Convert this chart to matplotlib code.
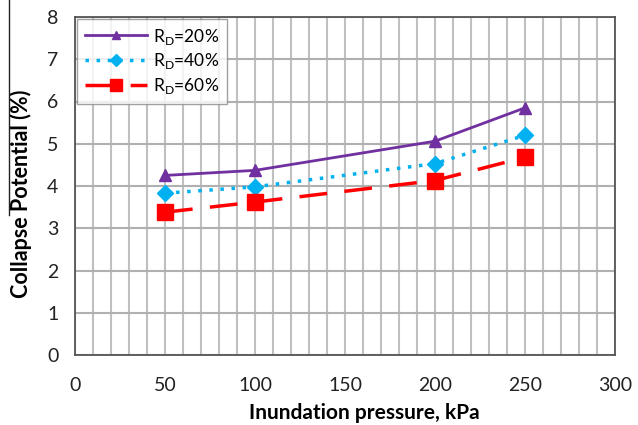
import matplotlib
matplotlib.use("Agg")
import matplotlib.pyplot as plt
from matplotlib.ticker import MultipleLocator
from matplotlib.lines import Line2D

plt.rcParams['font.family'] = ['Lato', 'DejaVu Sans']
plt.rcParams['mathtext.fontset'] = 'custom'
plt.rcParams['mathtext.rm'] = 'Lato'

pressure = [50, 100, 200, 250]
cp_rd20 = [4.25, 4.37, 5.06, 5.85]
cp_rd40 = [3.83, 3.98, 4.53, 5.20]
cp_rd60 = [3.38, 3.62, 4.13, 4.68]
labels = [r'R$_\mathregular{D}$=20%', r'R$_\mathregular{D}$=40%', r'R$_\mathregular{D}$=60%']

fig = plt.figure(figsize=(6.38, 4.25), dpi=100)
ax = fig.add_axes([75/638, 1-355/425, 540/638, 338/425])

ax.plot(pressure, cp_rd20, color='#7030A0', lw=2, marker='^', ms=8, label=labels[0])
ax.plot(pressure, cp_rd40, color='#00B0F0', lw=2.5, ls=(0, (1, 2.2)), marker='D', ms=8, label=labels[1])
ax.plot(pressure, cp_rd60, color='#FF0000', lw=2.5, ls=(0, (8, 5)), marker='s', ms=12, label=labels[2])

ax.set_xlim(0, 300)
ax.set_ylim(0, 8)
ax.xaxis.set_major_locator(MultipleLocator(50))
ax.xaxis.set_minor_locator(MultipleLocator(10))
ax.yaxis.set_major_locator(MultipleLocator(1))
ax.grid(which='both', axis='x', color='#c0c0c0', lw=1.5)
ax.grid(which='major', axis='y', color='#b0b0b0', lw=1.5)
ax.set_axisbelow(True)
ax.tick_params(which='both', length=0, labelsize=14, colors='#222222')
ax.tick_params(axis='x', pad=16)
ax.tick_params(axis='y', pad=12)
for s in ax.spines.values():
    s.set_color('#555555')
    s.set_linewidth(1.3)

ax.set_xlabel('Inundation pressure, kPa', fontsize=15, fontweight='bold')
ax.xaxis.set_label_coords(0.535, -0.142)
ax.set_ylabel('Collapse Potential (%)', fontsize=15.5, fontweight='bold')
ax.yaxis.set_label_coords(-0.079, 0.476)

leg = ax.legend(loc='upper left', fontsize=12.5, frameon=True, fancybox=False,
                borderaxespad=0.1, handlelength=3.6, labelspacing=0.28,
                borderpad=0.45, markerscale=0.75, handletextpad=0.35)
leg.get_frame().set_edgecolor('#888888')
leg.get_frame().set_linewidth(1)

fig.add_artist(Line2D([9/638, 9/638], [1, 1-215/425], color='#222222', lw=1))

fig.savefig('out.png', dpi=100)
